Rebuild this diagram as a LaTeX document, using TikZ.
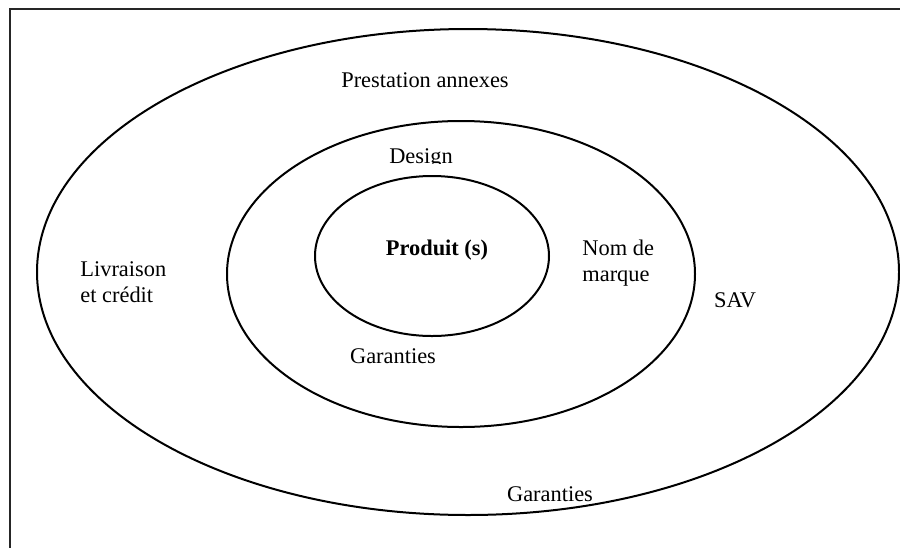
\documentclass[tikz,border=0pt]{standalone}
\usepackage{fontspec}
\setmainfont{Liberation Serif}
\begin{document}
\begin{tikzpicture}[x=0.5pt,y=-0.5pt,
  ring/.style={draw=black,line width=1pt},
  lbl/.style={inner sep=0pt,font=\fontsize{11.2}{13}\selectfont},
  lbl2/.style={lbl,align=left,anchor=west}]
\useasboundingbox (0,0) rectangle (900,547);
\begin{scope}
  \clip (0,0) rectangle (900,547);
  \draw[draw=black!85,line width=1pt] (10,9) rectangle (910,560);
\end{scope}
\draw[ring] (468,272) ellipse [x radius=431,y radius=243];
\draw[ring] (461,274) ellipse [x radius=234,y radius=153];
\draw[ring] (432,256) ellipse [x radius=117,y radius=80];
\node[lbl] (prest) at (425,80) {Prestation annexes};
\begin{scope}
  \clip (360,130) rectangle (480,163);
  \node[lbl] (design) at (421,158) {Design};
\end{scope}
\node[lbl,font=\fontsize{11.2}{13}\selectfont\bfseries] (prod) at (437,250) {Produit (s)};
\node[lbl2] (nom) at (582,263) {Nom de\\marque};
\node[lbl2] (livr) at (80,282) {Livraison\\et crédit};
\node[lbl] (sav) at (735,300) {SAV};
\node[lbl] (gar1) at (393,356) {Garanties};
\node[lbl] (gar2) at (550,494) {Garanties};
\end{tikzpicture}
\end{document}
